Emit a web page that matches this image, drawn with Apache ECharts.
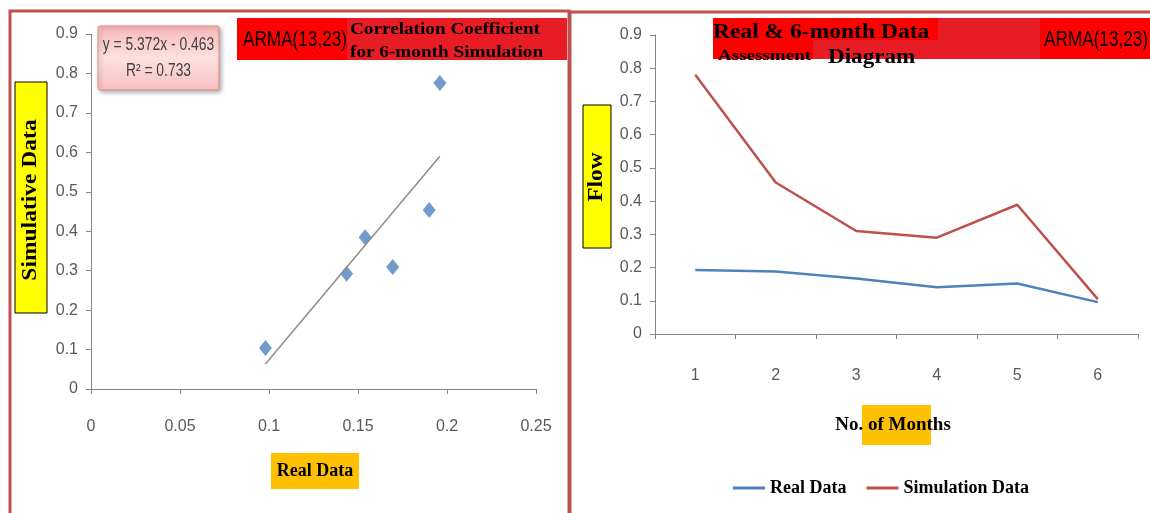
<!DOCTYPE html>
<html>
<head>
<meta charset="utf-8">
<script src="https://cdn.jsdelivr.net/npm/echarts@6/dist/echarts.min.js"></script>
<style>
html,body{margin:0;padding:0;background:#fff;}
#c{width:1150px;height:513px;}
</style>
</head>
<body>
<div id="c"></div>
<script>
// ---- Data ----
var realData = [0.098, 0.1436, 0.154, 0.1695, 0.190, 0.196];
var simData = [0.104, 0.292, 0.385, 0.309, 0.454, 0.776];
var trendSlope = 5.372;
var trendIntercept = -0.463;
var months = ['1', '2', '3', '4', '5', '6'];
var realFlow = [0.193, 0.188, 0.167, 0.141, 0.152, 0.096];
var simFlow = [0.780, 0.456, 0.310, 0.290, 0.389, 0.105];

var scatterPts = realData.map(function (x, i) { return [x, simData[i]]; });
var xMin = Math.min.apply(null, realData), xMax = Math.max.apply(null, realData);
var trendPts = [[xMin, trendSlope * xMin + trendIntercept], [xMax, trendSlope * xMax + trendIntercept]];

var SANS = "'Liberation Sans',Arial,sans-serif";
var SERIF = "'Liberation Serif','Times New Roman',serif";
var AX = '#868686';
var LBL = '#595959';

function valAxis(idx, max, interval, margin) {
  return {
    gridIndex: idx, type: 'value', min: 0, max: max, interval: interval,
    axisLine: { show: true, lineStyle: { color: AX, width: 1 } },
    axisTick: { show: true, length: 5, lineStyle: { color: AX } },
    splitLine: { show: false },
    axisLabel: { color: LBL, fontFamily: SANS, fontSize: 16, margin: margin }
  };
}

var chart = echarts.init(document.getElementById('c'), null, { renderer: 'canvas' });
var xa0 = valAxis(0, 0.25, 0.05, 30);
var ya0 = valAxis(0, 0.9, 0.1, 13);
var ya1 = valAxis(1, 0.9, 0.1, 13);
var xa1 = {
  gridIndex: 1, type: 'category', data: months, boundaryGap: true,
  axisLine: { show: true, lineStyle: { color: AX, width: 1 } },
  axisTick: { show: true, length: 5, lineStyle: { color: AX } },
  axisLabel: { color: LBL, fontFamily: SANS, fontSize: 16, margin: 34 }
};

function txt(x, y, s, font, opts) {
  opts = opts || {};
  return {
    type: 'text', x: x, y: y, rotation: opts.rot || 0,
    scaleX: opts.sx || 1, scaleY: 1,
    style: { text: s, font: font, fill: opts.fill || '#000', textAlign: opts.align || 'left', textVerticalAlign: 'middle' },
    z: 60
  };
}

chart.setOption({
  animation: false,
  backgroundColor: '#ffffff',
  grid: [
    { left: 91, top: 34, width: 445, height: 355 },
    { left: 655, top: 35, width: 483, height: 299 }
  ],
  xAxis: [xa0, xa1],
  yAxis: [ya0, ya1],
  legend: {
    data: ['Real Data', 'Simulation Data'],
    left: 728, top: 474,
    icon: 'rect', itemWidth: 32, itemHeight: 3, itemGap: 20,
    textStyle: { fontFamily: SERIF, fontWeight: 'bold', fontSize: 18, color: '#000' }
  },
  series: [
    {
      type: 'scatter', xAxisIndex: 0, yAxisIndex: 0, data: scatterPts,
      symbol: 'diamond', symbolSize: [13, 16],
      itemStyle: { color: '#4f81bd' }
    },
    {
      type: 'line', xAxisIndex: 0, yAxisIndex: 0, data: trendPts,
      showSymbol: false, lineStyle: { color: '#8c8c8c', width: 1.5 }
    },
    {
      name: 'Real Data', type: 'line', xAxisIndex: 1, yAxisIndex: 1, data: realFlow,
      showSymbol: false, color: '#4f81bd', lineStyle: { color: '#4f81bd', width: 2.5 }
    },
    {
      name: 'Simulation Data', type: 'line', xAxisIndex: 1, yAxisIndex: 1, data: simFlow,
      showSymbol: false, color: '#c0504d', lineStyle: { color: '#c0504d', width: 2.5 }
    }
  ],
  graphic: [
    // panel borders
    { type: 'rect', shape: { x: 10, y: 11, width: 559, height: 520 }, style: { fill: 'none', stroke: '#c0504d', lineWidth: 3 }, z: 100 },
    { type: 'rect', shape: { x: 570, y: 12, width: 600, height: 520 }, style: { fill: 'none', stroke: '#c0504d', lineWidth: 3 }, z: 100 },
    // left title bar
    { type: 'rect', shape: { x: 237, y: 18, width: 110, height: 42 }, style: { fill: '#ff0000' }, z: 50 },
    { type: 'rect', shape: { x: 347, y: 18, width: 220, height: 42 }, style: { fill: '#e81c24' }, z: 50 },
    txt(243, 40, 'ARMA(13,23)', '22px ' + SANS, { sx: 0.78 }),
    txt(350, 30, 'Correlation Coefficient', 'bold 16px ' + SERIF, { sx: 1.2 }),
    txt(350, 53, 'for 6-month Simulation', 'bold 16px ' + SERIF, { sx: 1.2 }),
    // equation box
    { type: 'rect', shape: { x: 98, y: 26, width: 121, height: 64, r: 2 },
      style: { fill: new echarts.graphic.LinearGradient(0, 0, 0, 1, [{ offset: 0, color: '#f8b8b8' }, { offset: 0.5, color: '#fde0e0' }, { offset: 1, color: '#f7c0c0' }]),
        stroke: '#e08a8a', lineWidth: 1, shadowBlur: 4, shadowOffsetX: 2, shadowOffsetY: 2, shadowColor: 'rgba(0,0,0,0.3)' }, z: 50 },
    txt(158.5, 45, 'y = 5.372x - 0.463', '18px ' + SANS, { sx: 0.77, align: 'center', fill: '#404040' }),
    txt(158.5, 71, 'R\u00b2 = 0.733', '18px ' + SANS, { sx: 0.77, align: 'center', fill: '#404040' }),
    // left y axis name
    { type: 'rect', shape: { x: 15, y: 82, width: 32, height: 231 }, style: { fill: '#ffff00', stroke: '#000', lineWidth: 1 }, z: 50 },
    txt(31, 200, 'Simulative Data', 'bold 21px ' + SERIF, { sx: 1.12, rot: Math.PI / 2, align: 'center' }),
    // left x axis name
    { type: 'rect', shape: { x: 271, y: 453, width: 88, height: 36 }, style: { fill: '#ffc000' }, z: 50 },
    txt(315, 471, 'Real Data', 'bold 18px ' + SERIF, { align: 'center' }),
    // right title bar
    { type: 'rect', shape: { x: 713, y: 18, width: 437, height: 41 }, style: { fill: '#e81c24' }, z: 49 },
    { type: 'rect', shape: { x: 713, y: 18, width: 100, height: 41 }, style: { fill: '#ff0000' }, z: 50 },
    { type: 'rect', shape: { x: 713, y: 18, width: 225, height: 22 }, style: { fill: '#ff0000' }, z: 50 },
    { type: 'rect', shape: { x: 1040, y: 18, width: 110, height: 41 }, style: { fill: '#ff0000' }, z: 50 },
    txt(713, 33, 'Real & 6-month Data', 'bold 21px ' + SERIF, { sx: 1.12 }),
    txt(718, 56, 'Assessment', 'bold 15px ' + SERIF, { sx: 1.27 }),
    txt(828, 58, 'Diagram', 'bold 21px ' + SERIF, { sx: 1.1 }),
    txt(1148, 40, 'ARMA(13,23)', '22px ' + SANS, { sx: 0.78, align: 'right' }),
    // right y axis name
    { type: 'rect', shape: { x: 583, y: 105, width: 28, height: 143 }, style: { fill: '#ffff00', stroke: '#000', lineWidth: 1 }, z: 50 },
    txt(597, 177, 'Flow', 'bold 21px ' + SERIF, { sx: 1.12, rot: Math.PI / 2, align: 'center' }),
    // right x axis name
    { type: 'rect', shape: { x: 862, y: 405, width: 69, height: 40 }, style: { fill: '#ffc000' }, z: 50 },
    txt(893, 425, 'No. of Months', 'bold 19px ' + SERIF, { align: 'center' })
  ]
});
</script>
</body>
</html>
